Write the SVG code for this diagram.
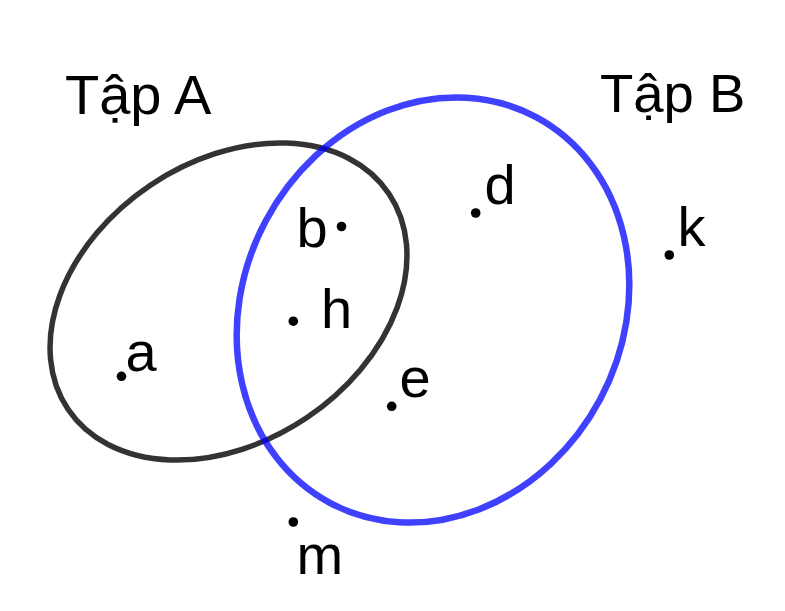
<svg xmlns="http://www.w3.org/2000/svg" width="785" height="611" viewBox="0 0 785 611">
<style>
.lbl{font-family:"Liberation Sans",Arial,sans-serif;font-size:56px;fill:#000}
.dot{fill:#000}
.setA{fill:none;stroke:#000;stroke-opacity:0.8;stroke-width:5.5}
.setB{fill:none;stroke:#0000ff;stroke-opacity:0.75;stroke-width:6.5}
</style>
<rect width="785" height="611" fill="#fff"/>
<g id="setA">
<ellipse class="setA" cx="228.5" cy="301.5" rx="193.3" ry="140.1" transform="rotate(-33.9 228.5 301.5)"/>
<text class="lbl" x="65" y="113.5">Tập A</text>
</g>
<g id="setB">
<ellipse class="setB" cx="433" cy="310" rx="189.5" ry="218.7" transform="rotate(28 433 310)"/>
<text class="lbl" x="600" y="111.5" style="font-size:54.5px">Tập B</text>
</g>
<g id="connectors"></g>
<g id="pt-a"><circle class="dot" cx="121.5" cy="376.3" r="4.8"/><text class="lbl" x="125.5" y="370.5">a</text></g>
<g id="pt-b"><circle class="dot" cx="341.5" cy="226.5" r="4.8"/><text class="lbl" x="296.5" y="246.5">b</text></g>
<g id="pt-h"><circle class="dot" cx="293.3" cy="321.2" r="4.8"/><text class="lbl" x="321" y="328">h</text></g>
<g id="pt-e"><circle class="dot" cx="391.7" cy="406.3" r="4.8"/><text class="lbl" x="399.5" y="396.5">e</text></g>
<g id="pt-d"><circle class="dot" cx="475.7" cy="213" r="4.8"/><text class="lbl" x="484.5" y="204">d</text></g>
<g id="pt-k"><circle class="dot" cx="669.3" cy="255" r="4.8"/><text class="lbl" x="677.5" y="245.5">k</text></g>
<g id="pt-m"><circle class="dot" cx="293.3" cy="522" r="4.8"/><text class="lbl" x="296.5" y="574">m</text></g>
</svg>
